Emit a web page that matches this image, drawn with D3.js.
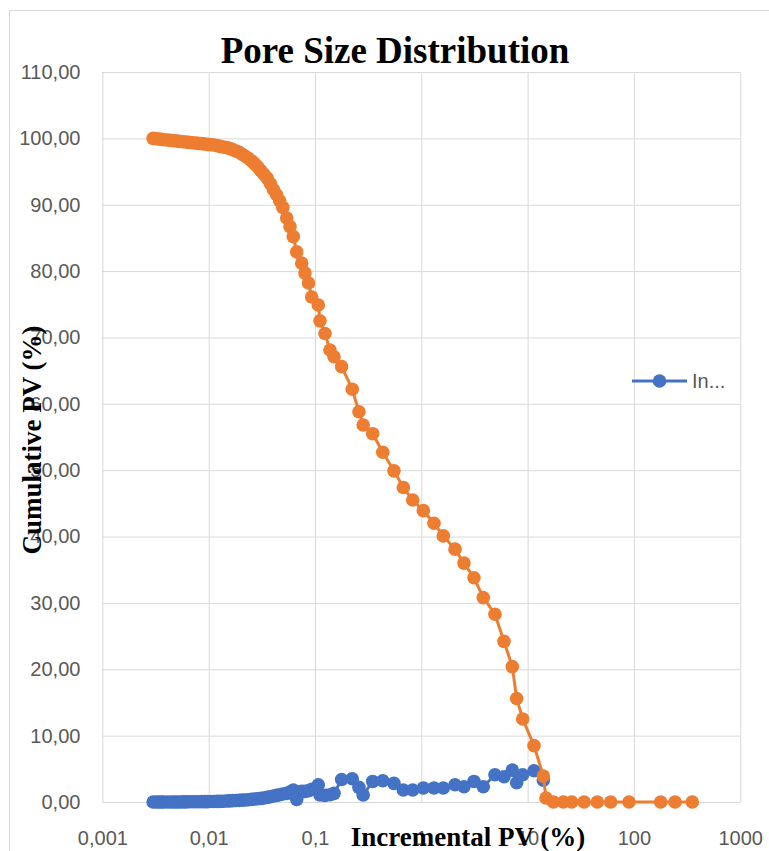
<!DOCTYPE html>
<html>
<head>
<meta charset="utf-8">
<script src="https://cdn.jsdelivr.net/npm/d3@7"></script>
<style>
  body { margin: 0; background: #fff; }
  .tick text { font-family: "Liberation Sans", sans-serif; font-size: 20px; fill: #595959; }
  .ttl { font-family: "Liberation Serif", "Times New Roman", serif; font-weight: bold; fill: #000; }
</style>
</head>
<body>
<svg width="769" height="851"></svg>
<script>
"use strict";

// pore size (x, log axis)
const poreSize = [
    0.0030, 0.0032, 0.0034, 0.0036, 0.0038, 0.0041, 0.0044, 0.0047, 0.0050, 0.0053,
    0.0057, 0.0061, 0.0065, 0.0070, 0.0075, 0.0080, 0.0086, 0.0092, 0.0098, 0.0105,
    0.0112, 0.0120, 0.0128, 0.0137, 0.0147, 0.0157, 0.0168, 0.0180, 0.0193, 0.0206,
    0.0221, 0.0236, 0.0253, 0.0270, 0.0289, 0.0310, 0.0331, 0.0355, 0.0380, 0.0406,
    0.0435, 0.0465, 0.0498,
    0.0542, 0.0582, 0.0625, 0.0673, 0.0750, 0.0805, 0.0869, 0.0931, 0.1074, 0.1114,
    0.1242, 0.1384, 0.151,
    0.178, 0.224, 0.259, 0.284, 0.349, 0.434, 0.553, 0.678, 0.830, 1.045,
    1.316, 1.610, 2.075, 2.52, 3.13, 3.83, 4.93, 6.00, 7.18, 7.89,
    8.99, 11.5, 14.06,
    14.9, 17.5, 21.7, 26.0, 34.0, 45.3, 60.5, 89.9, 178.6, 243.8, 354
];

// cumulative PV (%) - orange
const cumulativePV = [
    100.0, 99.95, 99.9, 99.85, 99.8, 99.75, 99.7, 99.65, 99.6, 99.55,
    99.5, 99.45, 99.4, 99.35, 99.3, 99.25, 99.2, 99.15, 99.1, 99.05,
    99.0, 98.9, 98.8, 98.7, 98.6, 98.5, 98.3, 98.1, 97.9, 97.6,
    97.3, 97.0, 96.6, 96.2, 95.7, 95.1, 94.6, 94.0, 93.2, 92.3,
    91.5, 90.6, 89.6,
    88.0, 86.7, 85.2, 82.9, 81.2, 79.7, 78.2, 76.1, 74.9, 72.5,
    70.6, 68.1, 67.1,
    65.6, 62.2, 58.8, 56.8, 55.5, 52.7, 49.9, 47.4, 45.5, 43.9,
    42.0, 40.1, 38.1, 36.0, 33.8, 30.8, 28.3, 24.2, 20.4, 15.6,
    12.5, 8.5, 3.9,
    0.6, 0, 0, 0, 0, 0, 0, 0, 0, 0, 0
];

// incremental PV (%) - blue, null where there is no point
const incrementalPV = [
    0, 0, 0, 0, 0, 0, 0, 0, 0, 0,
    0.02, 0.02, 0.03, 0.03, 0.04, 0.04, 0.05, 0.05, 0.06, 0.07,
    0.08, 0.1, 0.1, 0.12, 0.15, 0.17, 0.2, 0.22, 0.25, 0.28,
    0.3, 0.35, 0.4, 0.45, 0.5, 0.55, 0.6, 0.7, 0.8, 0.9,
    1.0, 1.1, 1.2,
    1.3, 1.5, 1.8, 0.4, 1.6, 1.6, 1.7, 1.9, 2.6, 1.05,
    1.0, 1.1, 1.3,
    3.4, 3.5, 2.2, 1.05, 3.1, 3.2, 2.8, 1.8, 1.8, 2.1,
    2.1, 2.1, 2.6, 2.3, 3.1, 2.3, 4.1, 3.8, 4.8, 2.9,
    4.1, 4.7, 3.3,
    null, null, null, null, null, null, null, null, null, null, null
];

const xTicks = [0.001, 0.01, 0.1, 1, 10, 100, 1000];
const xTickLabels = ["0,001", "0,01", "0,1", "1", "10", "100", "1000"];
const yTicks = [0, 10, 20, 30, 40, 50, 60, 70, 80, 90, 100, 110];

const chartTitle = "Pore Size Distribution";
const xTitle = "Incremental PV (%)";
const yTitle = "Cumulative PV (%)";
const legendLabel = "In...";

const BLUE = "#4472C4", ORANGE = "#ED7D31", GRID = "#d9d9d9";
const R = 6.8; // marker radius

const svg = d3.select("svg");
const plotL = 102.4, plotR = 740.2, plotT = 72, plotB = 802;

// chart frame
svg.append("rect")
    .attr("x", 9.5).attr("y", 10.5)
    .attr("width", 800).attr("height", 900)
    .attr("fill", "none").attr("stroke", GRID);

const x = d3.scaleLog().domain([0.001, 1000]).range([plotL, plotR]);
const y = d3.scaleLinear().domain([0, 110]).range([plotB, plotT]);

const yAxis = svg.append("g")
    .attr("transform", `translate(${plotL},0)`)
    .call(d3.axisLeft(y).tickValues(yTicks).tickSize(-(plotR - plotL)).tickPadding(22)
        .tickFormat(d => d3.format(".2f")(d).replace(".", ",")));

const xAxis = svg.append("g")
    .attr("transform", `translate(0,${plotB})`)
    .call(d3.axisBottom(x).tickValues(xTicks).tickSize(-(plotB - plotT))
        .tickFormat((d, i) => xTickLabels[i]));

[xAxis, yAxis].forEach(g => {
    g.select(".domain").remove();
    g.selectAll(".tick line").attr("stroke", GRID).attr("stroke-width", 1);
});
xAxis.selectAll(".tick text").attr("y", 43).attr("dy", 0);

const pts = poreSize.map((p, i) => ({ p, cum: cumulativePV[i], inc: incrementalPV[i] }));

function drawSeries(key, color) {
    const data = pts.filter(d => d[key] != null);
    svg.append("path")
        .datum(data)
        .attr("fill", "none")
        .attr("stroke", color)
        .attr("stroke-width", 3)
        .attr("d", d3.line().x(d => x(d.p)).y(d => y(d[key])));
    svg.append("g").selectAll("circle")
        .data(data)
        .join("circle")
        .attr("cx", d => x(d.p))
        .attr("cy", d => y(d[key]))
        .attr("r", R)
        .attr("fill", color);
}
drawSeries("inc", BLUE);
drawSeries("cum", ORANGE);

// titles
svg.append("text").attr("class", "ttl")
    .attr("x", 395).attr("y", 63)
    .attr("text-anchor", "middle").attr("font-size", 37)
    .text(chartTitle);

svg.append("text").attr("class", "ttl")
    .attr("x", 468).attr("y", 846)
    .attr("text-anchor", "middle").attr("font-size", 27)
    .text(xTitle);

svg.append("text").attr("class", "ttl")
    .attr("transform", "translate(41,440) rotate(-90)")
    .attr("text-anchor", "middle").attr("font-size", 27)
    .text(yTitle);

// legend
const lg = svg.append("g").attr("transform", "translate(632,381)");
lg.append("line").attr("x1", 0).attr("x2", 55).attr("stroke", BLUE).attr("stroke-width", 3);
lg.append("circle").attr("cx", 27.5).attr("r", R).attr("fill", BLUE);
lg.append("text")
    .attr("x", 60).attr("y", 7)
    .attr("font-family", "Liberation Sans, sans-serif").attr("font-size", 20)
    .attr("fill", "#595959")
    .text(legendLabel);
</script>
</body>
</html>
